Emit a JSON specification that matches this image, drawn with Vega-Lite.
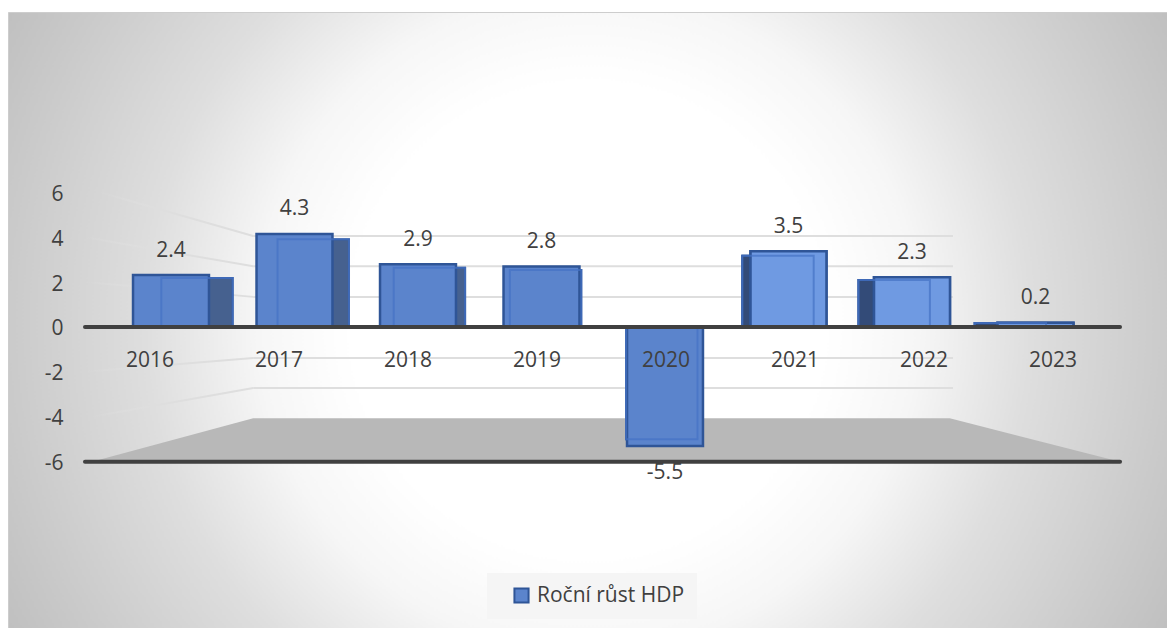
{
"$schema":"https://vega.github.io/schema/vega-lite/v6.json",
"width":1159,"height":616,
"autosize":{"type":"none"},
"padding":{"left":8,"top":12,"right":0,"bottom":0},
"background":"white",
"view":{"stroke":"#cdcdcd","strokeWidth":1,"fill":{"gradient":"radial","x1":0.5,"y1":0.5,"r1":0,"x2":0.5,"y2":0.5,"r2":0.57,"stops":[{"offset":0,"color":"#ffffff"},{"offset":0.36,"color":"#ffffff"},{"offset":0.5,"color":"#f6f6f6"},{"offset":0.67,"color":"#dedede"},{"offset":0.88,"color":"#cacaca"},{"offset":1,"color":"#bfbfbf"}]}},
"config":{"font":"Open Sans"},
"datasets":{
"bars":[
{"year":"2016","growth":2.4,"label":"2.4","series":"Roční růst HDP"},
{"year":"2017","growth":4.3,"label":"4.3","series":"Roční růst HDP"},
{"year":"2018","growth":2.9,"label":"2.9","series":"Roční růst HDP"},
{"year":"2019","growth":2.8,"label":"2.8","series":"Roční růst HDP"},
{"year":"2020","growth":-5.5,"label":"-5.5","series":"Roční růst HDP"},
{"year":"2021","growth":3.5,"label":"3.5","series":"Roční růst HDP"},
{"year":"2022","growth":2.3,"label":"2.3","series":"Roční růst HDP"},
{"year":"2023","growth":0.2,"label":"0.2","series":"Roční růst HDP"}],
"wall":[
{"a":0.8,"b":6.225,"v1":4.05,"v2":4.05},
{"a":0.8,"b":6.225,"v1":2.7,"v2":2.7},
{"a":0.8,"b":6.225,"v1":1.34,"v2":1.34},
{"a":0.8,"b":6.225,"v1":-1.38,"v2":-1.38},
{"a":0.8,"b":6.225,"v1":-2.72,"v2":-2.72}],
"side":[
{"a":-0.388,"b":0.8,"v1":6,"v2":4.05},
{"a":-0.504,"b":0.8,"v1":4,"v2":2.7},
{"a":-0.504,"b":0.8,"v1":2,"v2":1.34},
{"a":-0.504,"b":0.8,"v1":-2,"v2":-1.38},
{"a":-0.45,"b":0.8,"v1":-4,"v2":-2.72}],
"floor":[
{"a":-0.45,"top":-6,"base":-6},
{"a":0.8,"top":-4.07,"base":-6},
{"a":6.2,"top":-4.07,"base":-6},
{"a":7.52,"top":-6,"base":-6}],
"axes":[
{"a":-0.504,"b":7.52,"v":0},
{"a":-0.504,"b":7.52,"v":-6}]
},
"layer":[
{"data":{"name":"wall"},"mark":{"type":"rule","color":"#dedede","strokeWidth":2},
 "encoding":{
 "x":{"field":"a","type":"quantitative","scale":{"domain":[-1.1008,7.884],"nice":false,"zero":false},"axis":null},
 "x2":{"field":"b"},
 "y":{"field":"v1","type":"quantitative","scale":{"domain":[-13.41,14.03],"nice":false,"zero":false},"axis":null},
 "y2":{"field":"v2"}}},
{"data":{"name":"side"},"mark":{"type":"rule","strokeWidth":2,"stroke":{"gradient":"linear","x1":0,"y1":0,"x2":1,"y2":0,"stops":[{"offset":0,"color":"#dedede00"},{"offset":0.35,"color":"#dedede"},{"offset":1,"color":"#dedede"}]}},
 "encoding":{
 "x":{"field":"a","type":"quantitative","scale":{"domain":[-1.1008,7.884],"nice":false,"zero":false},"axis":null},
 "x2":{"field":"b"},
 "y":{"field":"v1","type":"quantitative","scale":{"domain":[-13.41,14.03],"nice":false,"zero":false},"axis":null},
 "y2":{"field":"v2"}}},
{"data":{"name":"floor"},"mark":{"type":"area","color":"#b8b8b8","opacity":1},
 "encoding":{
 "x":{"field":"a","type":"quantitative","scale":{"domain":[-1.1008,7.884],"nice":false,"zero":false},"axis":null},
 "y":{"field":"top","type":"quantitative","stack":null,"scale":{"domain":[-13.41,14.03],"nice":false,"zero":false},"axis":null},
 "y2":{"field":"base"}}},
{"data":{"name":"bars"},"mark":{"type":"bar","color":"#46618f","stroke":"#2f5597","strokeWidth":2},
 "encoding":{
 "x":{"field":"year","type":"nominal","scale":{"type":"band","range":[130.9,1060.5],"paddingInner":0.3855,"paddingOuter":0.193},"axis":null},
 "y":{"field":"growth","type":"quantitative","stack":null,"scale":{"domain":[-14.75,15.44],"nice":false},"axis":null}}},
{"data":{"name":"bars"},"transform":[{"filter":"datum.growth > 0 && +datum.year >= 2021"}],"mark":{"type":"bar","color":"#334b78","stroke":"#2f5597","strokeWidth":2},
 "encoding":{
 "x":{"field":"year","type":"nominal","scale":{"type":"band","domain":["2016","2017","2018","2019","2020","2021","2022","2023"],"range":[130.9,1060.5],"paddingInner":0.3855,"paddingOuter":0.193},"axis":null},
 "y":{"field":"growth","type":"quantitative","stack":null,"scale":{"domain":[-14.75,15.44],"nice":false},"axis":null}}},
{"data":{"name":"bars"},"mark":{"type":"bar","stroke":"#2f5597","strokeWidth":2.5},
 "encoding":{
 "x":{"field":"year","type":"nominal","scale":{"type":"band","range":[101.25,1089.25],"paddingInner":0.385,"paddingOuter":0.1925},"axis":null},
 "y":{"field":"growth","type":"quantitative","stack":null,"scale":{"domain":[-13.9,14.55],"nice":false},"axis":null},
 "color":{"field":"series","type":"nominal","scale":{"domain":["Roční růst HDP"],"range":["#5b84cc"]},
  "legend":{"title":null,"orient":"none","legendX":479,"legendY":561,"fillColor":"#f5f5f5","padding":12,"symbolType":"square","symbolSize":200,"symbolStrokeColor":"#2f5597","symbolStrokeWidth":2,"symbolOffset":12,"labelOffset":5,"labelFontSize":21,"labelColor":"#404040","labelFont":"Open Sans","labelLimit":300}}}},
{"data":{"name":"bars"},"transform":[{"filter":"+datum.year >= 2021"}],"mark":{"type":"bar","color":"#6f9ae2","stroke":"#2f5597","strokeWidth":2.5},
 "encoding":{
 "x":{"field":"year","type":"nominal","scale":{"type":"band","domain":["2016","2017","2018","2019","2020","2021","2022","2023"],"range":[101.25,1089.25],"paddingInner":0.385,"paddingOuter":0.1925},"axis":null},
 "y":{"field":"growth","type":"quantitative","stack":null,"scale":{"domain":[-13.9,14.55],"nice":false},"axis":null}}},
{"data":{"name":"bars"},"mark":{"type":"bar","fillOpacity":0,"stroke":"#4472c4","strokeWidth":2,"strokeOpacity":0.7},
 "encoding":{
 "x":{"field":"year","type":"nominal","scale":{"type":"band","range":[130.9,1060.5],"paddingInner":0.3855,"paddingOuter":0.193},"axis":null},
 "y":{"field":"growth","type":"quantitative","stack":null,"scale":{"domain":[-14.75,15.44],"nice":false},"axis":null}}},
{"data":{"name":"axes"},"mark":{"type":"rule","color":"#404040","strokeWidth":4,"strokeCap":"round"},
 "encoding":{
 "x":{"field":"a","type":"quantitative","scale":{"domain":[-1.1008,7.884],"nice":false,"zero":false},"axis":null},
 "x2":{"field":"b"},
 "y":{"field":"v","type":"quantitative","scale":{"domain":[-13.41,14.03],"nice":false,"zero":false},
  "axis":{"title":null,"values":[-6,-4,-2,0,2,4,6],"labelExpr":"'' + datum.value","domain":false,"ticks":false,"grid":false,"offset":-55,"labelPadding":0,"labelOffset":2,"labelFontSize":21,"labelColor":"#404040","labelFont":"Open Sans","zindex":1}}}},
{"data":{"name":"bars"},"mark":{"type":"tick","opacity":0},
 "encoding":{
 "x":{"field":"year","type":"nominal","scale":{"type":"band","range":[77.5,1109.5]},
  "axis":{"title":null,"domain":false,"ticks":false,"grid":false,"labelAngle":0,"labelPadding":0,"labelBaseline":"top","offset":-279,"labelFontSize":21,"labelColor":"#404040","labelFont":"Open Sans","zindex":1}},
 "y":{"field":"growth","type":"quantitative","stack":null,"axis":null}}},
{"data":{"name":"bars"},"transform":[{"filter":"datum.growth >= 0"}],"mark":{"type":"text","fontSize":21,"color":"#404040","dy":-24.5,"baseline":"middle"},
 "encoding":{
 "x":{"field":"year","type":"nominal","scale":{"type":"band","domain":["2016","2017","2018","2019","2020","2021","2022","2023"],"range":[101.25,1089.25],"paddingInner":0.385,"paddingOuter":0.1925},"axis":null},
 "y":{"field":"growth","type":"quantitative","stack":null,"scale":{"domain":[-13.9,14.55],"nice":false},"axis":null},
 "text":{"field":"label","type":"nominal"}}},
{"data":{"name":"bars"},"transform":[{"filter":"datum.growth < 0"}],"mark":{"type":"text","fontSize":21,"color":"#404040","dy":27,"baseline":"middle"},
 "encoding":{
 "x":{"field":"year","type":"nominal","scale":{"type":"band","domain":["2016","2017","2018","2019","2020","2021","2022","2023"],"range":[101.25,1089.25],"paddingInner":0.385,"paddingOuter":0.1925},"axis":null},
 "y":{"field":"growth","type":"quantitative","stack":null,"scale":{"domain":[-13.9,14.55],"nice":false},"axis":null},
 "text":{"field":"label","type":"nominal"}}}
],
"resolve":{"scale":{"x":"independent","y":"independent","color":"independent"},"axis":{"x":"independent","y":"independent"}}
}
